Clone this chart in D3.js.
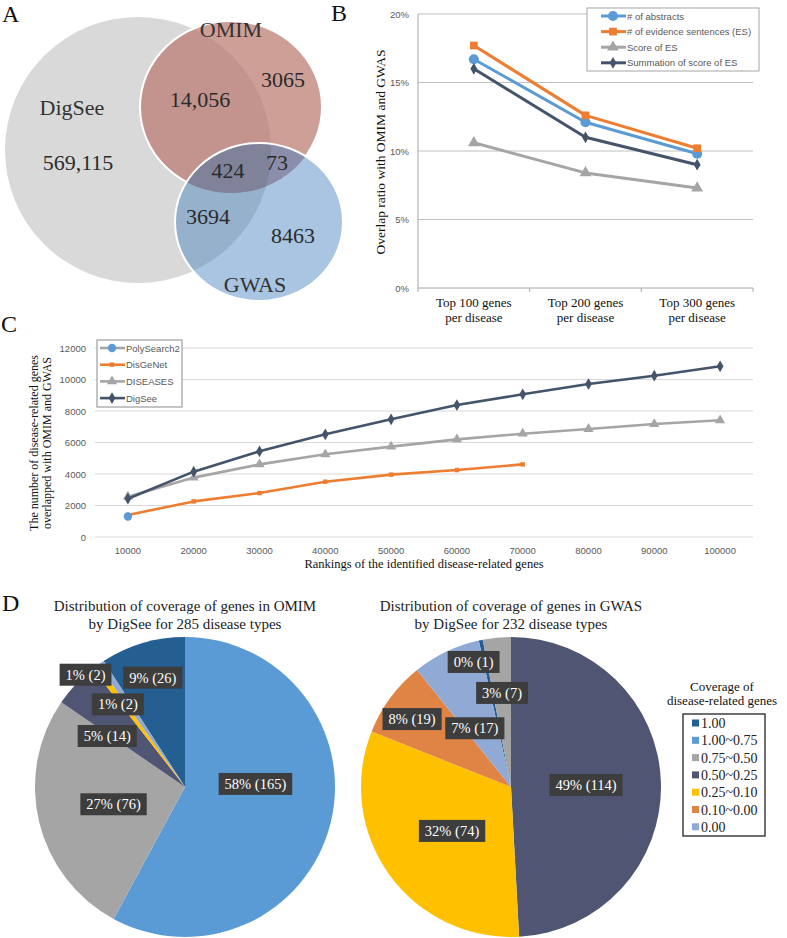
<!DOCTYPE html>
<meta charset="utf-8">
<style>
body { margin: 0; background: #fff; }
svg { display: block; font-family: "Liberation Serif", "Times New Roman", serif; }
.sans { font-family: "Liberation Sans", Arial, sans-serif; }
</style>
<svg width="787" height="938"></svg>
<script src="https://d3js.org/d3.v7.min.js"></script>
<script>

// ---- data ----
var vennSets = ["DigSee", "OMIM", "GWAS"];
var vennCounts = ["569,115", "14,056", "3065", "424", "73", "3694", "8463"];

var bCategories = ["Top 100 genes", "Top 200 genes", "Top 300 genes"];
var bSeriesNames = ["# of abstracts", "# of evidence sentences (ES)", "Score of ES", "Summation of score of ES"];
var bAbstracts = [0.167, 0.121, 0.098];
var bEvidence = [0.177, 0.126, 0.102];
var bScore = [0.106, 0.084, 0.073];
var bSummation = [0.160, 0.110, 0.090];
var bTicks = [0, 0.05, 0.10, 0.15, 0.20];

var cRanks = [10000, 20000, 30000, 40000, 50000, 60000, 70000, 80000, 90000, 100000];
var cSeriesNames = ["PolySearch2", "DisGeNet", "DISEASES", "DigSee"];
var cPolySearch2 = [1300];
var cDisGeNet = [1400, 2260, 2790, 3510, 3960, 4250, 4610];
var cDiseases = [2560, 3770, 4610, 5250, 5740, 6200, 6560, 6860, 7170, 7410];
var cDigSee = [2430, 4150, 5440, 6520, 7470, 8380, 9060, 9710, 10240, 10840];
var cTicks = [0, 2000, 4000, 6000, 8000, 10000, 12000];

var coverageBins = ["1.00", "1.00~0.75", "0.75~0.50", "0.50~0.25", "0.25~0.10", "0.10~0.00", "0.00"];
var omimCounts = [26, 165, 76, 14, 2, 0, 2];
var gwasCounts = [1, 0, 7, 114, 74, 19, 17];

// ---- styles / layout ----
var svg = d3.select("svg"),
    width = +svg.attr("width"),
    height = +svg.attr("height");

svg.append("rect").attr("width", width).attr("height", height).attr("fill", "#fff");

function panelLetter(t, x, y) {
  svg.append("text").attr("x", x).attr("y", y).attr("font-size", 24).attr("fill", "#111").text(t);
}
panelLetter("A", 2, 22);
panelLetter("B", 331, 21);
panelLetter("C", 1, 332);
panelLetter("D", 2, 611);

// ================= A: Venn =================
var vennShapes = [
  {cx: 138, cy: 150, rx: 133, ry: 133},
  {cx: 231, cy: 107, rx: 91, ry: 86},
  {cx: 259, cy: 222, rx: 84, ry: 79}
];
var defs = svg.append("defs");
vennShapes.forEach(function(s, i) {
  defs.append("clipPath").attr("id", "vclip" + i)
    .append("ellipse").attr("cx", s.cx).attr("cy", s.cy).attr("rx", s.rx).attr("ry", s.ry);
});
function ell(g, s) {
  return g.append("ellipse").attr("cx", s.cx).attr("cy", s.cy).attr("rx", s.rx).attr("ry", s.ry);
}
var venn = svg.append("g");
ell(venn, vennShapes[0]).attr("fill", "#d9d9d9");
ell(venn, vennShapes[1]).attr("fill", "#cd9f97");
ell(venn, vennShapes[1]).attr("fill", "#c2948d").attr("clip-path", "url(#vclip0)");
ell(venn, vennShapes[1]).attr("fill", "none").attr("stroke", "#fff").attr("stroke-width", 2);
ell(venn, vennShapes[2]).attr("fill", "#a9c5e2");
ell(venn, vennShapes[2]).attr("fill", "#96b1cc").attr("clip-path", "url(#vclip0)");
ell(venn, vennShapes[2]).attr("fill", "#8a8eaa").attr("clip-path", "url(#vclip1)");
ell(venn.append("g").attr("clip-path", "url(#vclip0)"), vennShapes[2]).attr("fill", "#7f8299").attr("clip-path", "url(#vclip1)");
ell(venn, vennShapes[2]).attr("fill", "none").attr("stroke", "#fff").attr("stroke-width", 2);

var vennSetPos = [[72, 115], [231, 37], [255, 292]];
var vennCountPos = [[78, 170], [200, 107], [283, 87], [228, 178], [277, 170], [208, 224], [293, 243]];
venn.selectAll(".setlab").data(vennSets).enter().append("text")
  .attr("x", function(d, i) { return vennSetPos[i][0]; })
  .attr("y", function(d, i) { return vennSetPos[i][1]; })
  .attr("text-anchor", "middle").attr("font-size", 22).attr("fill", "#333")
  .text(function(d) { return d; });
venn.selectAll(".cntlab").data(vennCounts).enter().append("text")
  .attr("x", function(d, i) { return vennCountPos[i][0]; })
  .attr("y", function(d, i) { return vennCountPos[i][1]; })
  .attr("text-anchor", "middle").attr("font-size", 22).attr("fill", "#2b2b2b")
  .text(function(d) { return d; });

// ================= B: overlap ratio =================
var bx = d3.scaleBand().domain(bCategories).range([418, 753]).padding(0),
    by = d3.scaleLinear().domain([0, 0.2]).range([288, 14]);
var gB = svg.append("g");

gB.selectAll(".grid").data(bTicks.slice(1)).enter().append("line")
  .attr("x1", 418).attr("x2", 753)
  .attr("y1", function(d) { return by(d); }).attr("y2", function(d) { return by(d); })
  .attr("stroke", "#bfbfbf").attr("stroke-width", 1);
gB.append("line").attr("x1", 418).attr("x2", 418).attr("y1", by(0.2)).attr("y2", by(0)).attr("stroke", "#a6a6a6");
gB.append("line").attr("x1", 418).attr("x2", 753).attr("y1", by(0)).attr("y2", by(0)).attr("stroke", "#a6a6a6");
var bBounds = bCategories.map(function(c) { return bx(c); }).concat([753]);
gB.selectAll(".tk").data(bBounds).enter().append("line")
  .attr("x1", function(d) { return d; }).attr("x2", function(d) { return d; })
  .attr("y1", by(0)).attr("y2", by(0) + 4).attr("stroke", "#a6a6a6");
gB.selectAll(".ylab").data(bTicks).enter().append("text").attr("class", "sans")
  .attr("x", 409).attr("y", function(d) { return by(d) + 3.5; })
  .attr("text-anchor", "end").attr("font-size", 9.5).attr("fill", "#595959")
  .text(d3.format(".0%"));
gB.selectAll(".xlab").data(bCategories).enter().append("text")
  .attr("x", function(d) { return bx(d) + bx.bandwidth() / 2; })
  .attr("y", 307).attr("text-anchor", "middle").attr("font-size", 13).attr("fill", "#111")
  .each(function(d) {
    d3.select(this).append("tspan").attr("x", bx(d) + bx.bandwidth() / 2).text(d);
    d3.select(this).append("tspan").attr("x", bx(d) + bx.bandwidth() / 2).attr("dy", 15).text("per disease");
  });
gB.append("text").attr("transform", "translate(385,152) rotate(-90)")
  .attr("text-anchor", "middle").attr("font-size", 13.5).attr("fill", "#111")
  .text("Overlap ratio with OMIM and GWAS");

var bColors = ["#5b9bd5", "#ed7d31", "#a5a5a5", "#44546a"];
var bSymbols = [d3.symbol().type(d3.symbolCircle).size(80),
                d3.symbol().type(d3.symbolSquare).size(60),
                d3.symbol().type(d3.symbolTriangle).size(60),
                d3.symbol().type(d3.symbolDiamond).size(40)];
var bData = [bAbstracts, bEvidence, bScore, bSummation];
var bLine = d3.line().x(function(d, i) { return bx(bCategories[i]) + bx.bandwidth() / 2; }).y(function(d) { return by(d); });
bData.forEach(function(vals, k) {
  gB.append("path").attr("d", bLine(vals)).attr("fill", "none")
    .attr("stroke", bColors[k]).attr("stroke-width", 3).attr("stroke-linejoin", "round");
  gB.selectAll(".m" + k).data(vals).enter().append("path")
    .attr("transform", function(d, i) { return "translate(" + (bx(bCategories[i]) + bx.bandwidth() / 2) + "," + by(d) + ")"; })
    .attr("d", bSymbols[k]).attr("fill", bColors[k]);
});

// legend B
var legB = gB.append("g");
legB.append("rect").attr("x", 587).attr("y", 8).attr("width", 172).attr("height", 63)
  .attr("fill", "#fff").attr("stroke", "#a6a6a6");
bSeriesNames.forEach(function(name, k) {
  var yy = 16 + k * 15.6;
  legB.append("line").attr("x1", 601).attr("x2", 626).attr("y1", yy).attr("y2", yy)
    .attr("stroke", bColors[k]).attr("stroke-width", 3);
  legB.append("path").attr("transform", "translate(613," + yy + ")").attr("d", bSymbols[k]).attr("fill", bColors[k]);
  legB.append("text").attr("class", "sans").attr("x", 627).attr("y", yy + 3.5)
    .attr("font-size", 9.5).attr("fill", "#595959").text(name);
});

// ================= C: rankings =================
var cx = d3.scaleBand().domain(cRanks).range([95, 753]).padding(0),
    cy = d3.scaleLinear().domain([0, 12000]).range([537, 348]);
var gC = svg.append("g");
gC.selectAll(".grid").data(cTicks).enter().append("line")
  .attr("x1", 95).attr("x2", 753)
  .attr("y1", function(d) { return cy(d); }).attr("y2", function(d) { return cy(d); })
  .attr("stroke", "#d9d9d9").attr("stroke-width", 1);
gC.selectAll(".ylab").data(cTicks).enter().append("text").attr("class", "sans")
  .attr("x", 86).attr("y", function(d) { return cy(d) + 3.5; })
  .attr("text-anchor", "end").attr("font-size", 9.5).attr("fill", "#595959").text(function(d) { return d; });
gC.selectAll(".xlab").data(cRanks).enter().append("text").attr("class", "sans")
  .attr("x", function(d) { return cx(d) + cx.bandwidth() / 2; }).attr("y", 554)
  .attr("text-anchor", "middle").attr("font-size", 9.5).attr("fill", "#595959").text(function(d) { return d; });
gC.append("text").attr("x", 424).attr("y", 568).attr("text-anchor", "middle")
  .attr("font-size", 12.5).attr("fill", "#111").text("Rankings of the identified disease-related genes");
gC.append("text").attr("transform", "translate(38,443) rotate(-90)").attr("text-anchor", "middle")
  .attr("font-size", 12).attr("fill", "#111").text("The number of disease-related genes");
gC.append("text").attr("transform", "translate(51,443) rotate(-90)").attr("text-anchor", "middle")
  .attr("font-size", 12).attr("fill", "#111").text("overlapped with OMIM and GWAS");

var cColors = ["#5b9bd5", "#ed7d31", "#a5a5a5", "#44546a"];
var cLineColors = ["#a5a5a5", "#ed7d31", "#a5a5a5", "#44546a"];
var cSymbols = [d3.symbol().type(d3.symbolCircle).size(55),
                d3.symbol().type(d3.symbolSquare).size(20),
                d3.symbol().type(d3.symbolTriangle).size(45),
                d3.symbol().type(d3.symbolDiamond).size(40)];
var cData = [cPolySearch2, cDisGeNet, cDiseases, cDigSee];
var cLine = d3.line().x(function(d, i) { return cx(cRanks[i]) + cx.bandwidth() / 2; }).y(function(d) { return cy(d); });
[2, 3, 1, 0].forEach(function(k) {
  var vals = cData[k];
  gC.append("path").attr("d", cLine(vals)).attr("fill", "none")
    .attr("stroke", cLineColors[k]).attr("stroke-width", 2.6).attr("stroke-linejoin", "round");
  gC.selectAll(".m" + k).data(vals).enter().append("path")
    .attr("transform", function(d, i) { return "translate(" + (cx(cRanks[i]) + cx.bandwidth() / 2) + "," + cy(d) + ")"; })
    .attr("d", cSymbols[k]).attr("fill", cColors[k]);
});

var legC = gC.append("g");
legC.append("rect").attr("x", 97).attr("y", 340).attr("width", 85).attr("height", 67)
  .attr("fill", "#fff").attr("stroke", "#a6a6a6").attr("stroke-width", 1.3);
cSeriesNames.forEach(function(name, k) {
  var yy = 348 + k * 16.7;
  legC.append("line").attr("x1", 100).attr("x2", 125).attr("y1", yy).attr("y2", yy)
    .attr("stroke", cLineColors[k]).attr("stroke-width", 2.6);
  legC.append("path").attr("transform", "translate(112," + yy + ")").attr("d", cSymbols[k]).attr("fill", cColors[k]);
  legC.append("text").attr("class", "sans").attr("x", 126).attr("y", yy + 3.5)
    .attr("font-size", 9.5).attr("fill", "#595959").text(name);
});

// ================= D: pies =================
var binColors = ["#255e91", "#5b9bd5", "#a5a5a5", "#4f5573", "#ffc000", "#df8444", "#91a9d5"];
var arc = d3.arc().innerRadius(0).outerRadius(150);

// label placement per bin: [angle offset (deg), radius fraction]
var omimLabelLayout = [[0, 0.76], [-16.7, 0.47], [0, 0.49], [-10, 0.62], [-4.9, 1.0], [0, 0.5], [-5, 0.71]];
var gwasLabelLayout = [[-5, 0.87], [0, 0.5], [0, 0.63], [0, 0.5], [-1, 0.49], [-2, 0.8], [-6, 0.46]];

function drawPie(counts, centerX, centerY, title1, title2, firstBin, layout) {
  var total = d3.sum(counts);
  var before = d3.sum(counts.slice(0, firstBin));
  var start = -2 * Math.PI * before / total;
  var pie = d3.pie().sort(null).startAngle(start).endAngle(start + 2 * Math.PI);
  var arcs = pie(counts);
  var g = svg.append("g");
  g.append("text").attr("x", centerX).attr("y", 611).attr("text-anchor", "middle")
    .attr("font-size", 15).attr("fill", "#222").text(title1);
  g.append("text").attr("x", centerX).attr("y", 629).attr("text-anchor", "middle")
    .attr("font-size", 15).attr("fill", "#222").text(title2);
  var gp = g.append("g").attr("transform", "translate(" + centerX + "," + centerY + ")");
  gp.selectAll("path").data(arcs).enter().append("path")
    .attr("d", arc).attr("fill", function(d, i) { return binColors[i]; });
  arcs.forEach(function(a, i) {
    if (a.data === 0) return;
    var mid = (a.startAngle + a.endAngle) / 2 + layout[i][0] * Math.PI / 180;
    var r = 150 * layout[i][1];
    var lx = r * Math.sin(mid), ly = -r * Math.cos(mid);
    var lab = gp.append("g").attr("transform", "translate(" + lx + "," + ly + ")");
    var rect = lab.append("rect").attr("fill", "#3d3d3d");
    var t = lab.append("text").attr("text-anchor", "middle").attr("y", 5).attr("font-size", 14.5)
      .attr("fill", "#fff").text(Math.round(a.data / total * 100) + "% (" + a.data + ")");
    var w = t.node().getComputedTextLength() + 12;
    rect.attr("x", -w / 2).attr("y", -11).attr("width", w).attr("height", 22);
  });
}
drawPie(omimCounts, 185, 787, "Distribution of coverage of genes in OMIM", "by DigSee for 285 disease types", 1, omimLabelLayout);
drawPie(gwasCounts, 511, 787, "Distribution of coverage of genes in GWAS", "by DigSee for 232 disease types", 3, gwasLabelLayout);

// legend D
var legD = svg.append("g");
legD.append("text").attr("x", 722).attr("y", 691).attr("text-anchor", "middle").attr("font-size", 13).attr("fill", "#111").text("Coverage of");
legD.append("text").attr("x", 722).attr("y", 705).attr("text-anchor", "middle").attr("font-size", 13).attr("fill", "#111").text("disease-related genes");
legD.append("rect").attr("x", 683).attr("y", 714).attr("width", 82).attr("height", 122)
  .attr("fill", "#fff").attr("stroke", "#222").attr("stroke-width", 1.3);
coverageBins.forEach(function(b, i) {
  var yy = 723 + i * 17.3;
  legD.append("rect").attr("x", 692).attr("y", yy - 3.5).attr("width", 7).attr("height", 7).attr("fill", binColors[i]);
  legD.append("text").attr("x", 701).attr("y", yy + 5).attr("font-size", 14).attr("fill", "#222").text(b);
});

</script>
